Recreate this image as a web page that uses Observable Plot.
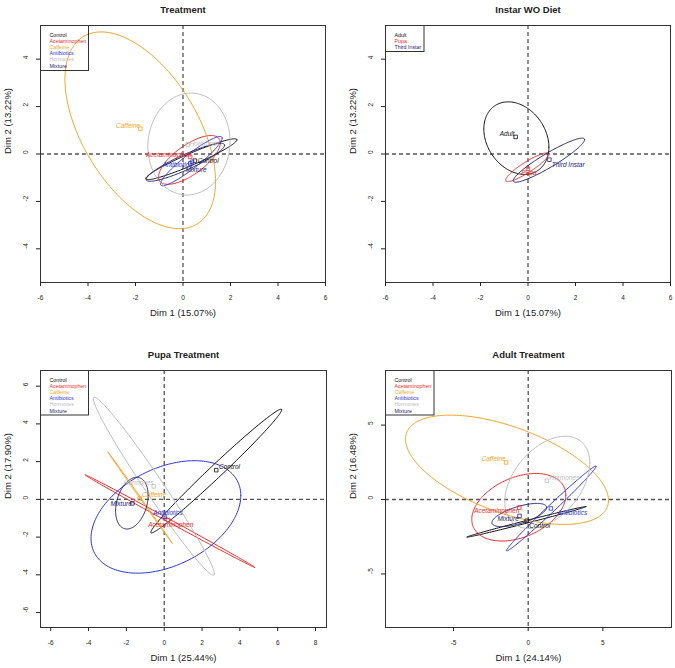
<!DOCTYPE html>
<html><head><meta charset="utf-8">
<script src="https://cdn.jsdelivr.net/npm/d3@7"></script>
<script src="https://cdn.jsdelivr.net/npm/@observablehq/plot@0.6"></script>
<style>
body{margin:0;background:#fff;}
#wrap{position:relative;width:675px;height:668px;}
.panel{position:absolute;}
</style></head><body><div id="wrap"></div>
<script>
// ---------- groups & colours ----------
const treatments = ["Control","Acetaminophen","Caffeine","Antibiotics","Hormones","Mixture"];
const treatColors = ["#111111","#ee2b2b","#f5a52a","#2b36e0","#bdbdbd","#23236f"];
const instars = ["Adult","Pupa","Third Instar"];
const instarColors = ["#111111","#ee2b2b","#23236f"];

// ---------- Panel 1: Treatment ----------
const p1Title = "Treatment", p1XLabel = "Dim 1 (15.07%)", p1YLabel = "Dim 2 (13.22%)";
const p1XTicks = [-6,-4,-2,0,2,4,6], p1YTicks = [-4,-2,0,2,4];
const p1Cx  = [0.35, 0.27, -1.8, 0.35, 0.25, 0.1];
const p1Cy  = [-0.22, -0.25, 1.0, -0.3, 0.42, -0.35];
const p1Sx  = [1.92, 1.3, 3.17, 1.3, 1.73, 1.65];
const p1Sy  = [0.86, 1.03, 4.15, 1.04, 2.15, 0.8];
const p1Rho = [0.95, 0.7, -0.52, 0.93, 0.05, 0.9];
const p1Px  = [0.5, 0.3, -1.8, 0.38, 0.2, 0.3];
const p1Py  = [-0.28, -0.12, 1.07, -0.33, 0.4, -0.4];
const p1Lx  = [0.62, -1.56, -2.82, -0.86, 0.28, 0.1];
const p1Ly  = [-0.3, -0.03, 1.17, -0.45, 0.43, -0.68];

// ---------- Panel 2: Instar WO Diet ----------
const p2Title = "Instar WO Diet", p2XLabel = "Dim 1 (15.07%)", p2YLabel = "Dim 2 (13.22%)";
const p2XTicks = [-6,-4,-2,0,2,4,6], p2YTicks = [-4,-2,0,2,4];
const p2Cx  = [-0.49, -0.04, 0.88];
const p2Cy  = [0.67, -0.56, -0.26];
const p2Sx  = [1.37, 0.9, 1.5];
const p2Sy  = [1.53, 0.6, 0.93];
const p2Rho = [-0.25, 0.9, 0.93];
const p2Px  = [-0.52, 0.0, 0.9];
const p2Py  = [0.72, -0.62, -0.24];
const p2Lx  = [-1.19, -0.28, 1.0];
const p2Ly  = [0.83, -0.78, -0.44];

// ---------- Panel 3: Pupa Treatment ----------
const p3Title = "Pupa Treatment", p3XLabel = "Dim 1 (25.44%)", p3YLabel = "Dim 2 (17.90%)";
const p3XTicks = [-6,-4,-2,0,2,4,6,8], p3YTicks = [-6,-4,-2,0,2,4,6];
const p3Cx  = [2.75, 0.3, -1.28, 0.09, -0.55, -1.71];
const p3Cy  = [1.5, -1.15, 0.1, -0.93, 0.7, -0.2];
const p3Sx  = [3.46, 4.48, 1.7, 3.96, 3.2, 0.86];
const p3Sy  = [3.28, 2.45, 2.42, 2.98, 4.72, 1.37];
const p3Rho = [0.99, -0.9993, -0.9998, 0.38, -0.983, 0.3];
const p3Px  = [2.75, 0.2, -1.3, 0.02, -0.55, -1.68];
const p3Py  = [1.55, -1.1, 0.05, -0.92, 0.69, -0.21];
const p3Lx  = [2.9, -0.85, -1.17, -0.58, -2.14, -2.84];
const p3Ly  = [1.7, -1.34, 0.26, -0.74, 0.87, -0.25];

// ---------- Panel 4: Adult Treatment ----------
const p4Title = "Adult Treatment", p4XLabel = "Dim 1 (24.14%)", p4YLabel = "Dim 2 (16.48%)";
const p4XTicks = [-5,0,5], p4YTicks = [-5,0,5];
const p4Cx  = [-0.12, -0.63, -1.42, 1.55, 1.28, -0.6];
const p4Cy  = [-1.5, -0.52, 2.0, -0.6, 1.15, -1.04];
const p4Sx  = [4.0, 3.15, 6.8, 3.0, 2.85, 1.83];
const p4Sy  = [1.03, 2.27, 3.67, 2.85, 3.1, 0.78];
const p4Rho = [0.996, 0.36, -0.56, 0.993, 0.42, 0.65];
const p4Px  = [-0.1, -0.6, -1.48, 1.52, 1.25, -0.58];
const p4Py  = [-1.43, -0.54, 2.49, -0.6, 1.26, -1.1];
const p4Lx  = [0.07, -3.62, -3.13, 1.97, 1.41, -2.06];
const p4Ly  = [-1.77, -0.76, 2.71, -0.92, 1.43, -1.32];

const FONT = "'Liberation Sans', Arial, Helvetica, sans-serif";

function ellipsePoints(groups, cx, cy, sx, sy, rho) {
  const pts = [];
  groups.forEach((g, i) => {
    const s = Math.sqrt(Math.max(0, 1 - rho[i] * rho[i]));
    for (let k = 0; k <= 180; k++) {
      const t = 2 * Math.PI * k / 180;
      pts.push({g, x: cx[i] + sx[i] * Math.cos(t), y: cy[i] + sy[i] * (rho[i] * Math.cos(t) + s * Math.sin(t))});
    }
  });
  return pts;
}

function makePanel(c) {
  const pts = ellipsePoints(c.groups, c.cx, c.cy, c.sx, c.sy, c.rho);
  const rows = c.groups.map((g, i) => ({g, px: c.px[i], py: c.py[i], lx: c.lx[i], ly: c.ly[i]}));
  const legendMarks = c.groups.map((g, i) => Plot.text([g], {
    frameAnchor: "top-left", text: d => d, dx: 9, dy: 7.3 + 6.2 * i,
    fill: c.colors[i], fontSize: 5.3, textAnchor: "start"
  }));
  const svg = Plot.plot({
    width: c.width, height: c.height,
    marginLeft: c.ml, marginRight: c.mr, marginTop: c.mt, marginBottom: c.mb,
    x: {domain: c.xdom, axis: null},
    y: {domain: c.ydom, axis: null},
    color: {type: "ordinal", domain: c.groups, range: c.colors},
    style: {fontFamily: FONT, background: "#fff", overflow: "visible", color: "#222"},
    marks: [
      Plot.ruleX([0], {stroke: "#555", strokeWidth: 1.3, strokeDasharray: "4,3"}),
      Plot.ruleY([0], {stroke: "#555", strokeWidth: 1.3, strokeDasharray: "4,3"}),
      Plot.line(pts, {x: "x", y: "y", z: "g", stroke: "g", strokeWidth: 1}),
      Plot.dot(rows, {x: "px", y: "py", stroke: "g", fill: "none", symbol: "square", r: 2, strokeWidth: 0.8}),
      Plot.text(rows, {x: "lx", y: "ly", text: "g", fill: "g", textAnchor: "start", fontSize: 6.5, fontStyle: "italic"}),
      Plot.frame({stroke: "#333", strokeWidth: 1}),
      Plot.axisX(c.xticks, {tickSize: 4, tickPadding: 9, fontSize: 6.5, tickFormat: d => String(d), label: null}),
      Plot.axisY(c.yticks, {tickSize: 4, tickFormat: () => "", label: null}),
      Plot.text(c.yticks, {y: d => d, text: d => String(d), frameAnchor: "left", dx: -14.5, rotate: -90, fontSize: 6.5}),
      Plot.text([c.xlabel], {frameAnchor: "bottom", text: d => d, dy: 33, fontSize: 9.5}),
      Plot.text([c.ylabel], {frameAnchor: "left", text: d => d, dx: -32.5, rotate: -90, fontSize: 9.5}),
      Plot.text([c.title], {frameAnchor: "top", text: d => d, dy: -19, fontSize: 9.5, fontWeight: "bold"}),
      ...legendMarks
    ]
  });
  // legend box
  d3.select(svg).append("rect")
    .attr("x", c.ml + 0.5).attr("y", c.mt + 0.5)
    .attr("width", c.legW).attr("height", c.legH)
    .attr("fill", "none").attr("stroke", "#333").attr("stroke-width", 1);
  const div = document.createElement("div");
  div.className = "panel";
  div.style.left = c.left + "px";
  div.style.top = c.top + "px";
  div.appendChild(svg);
  document.getElementById("wrap").appendChild(div);
}

makePanel({left: 0, top: 0, width: 337, height: 335, ml: 40, mr: 12, mt: 25, mb: 53,
  xdom: [-6, 6], ydom: [-5.42, 5.42], xticks: p1XTicks, yticks: p1YTicks,
  title: p1Title, xlabel: p1XLabel, ylabel: p1YLabel, groups: treatments, colors: treatColors,
  cx: p1Cx, cy: p1Cy, sx: p1Sx, sy: p1Sy, rho: p1Rho, px: p1Px, py: p1Py, lx: p1Lx, ly: p1Ly,
  legW: 48, legH: 45});

makePanel({left: 337, top: 0, width: 338, height: 335, ml: 48, mr: 5, mt: 25, mb: 53,
  xdom: [-6, 6], ydom: [-5.42, 5.42], xticks: p2XTicks, yticks: p2YTicks,
  title: p2Title, xlabel: p2XLabel, ylabel: p2YLabel, groups: instars, colors: instarColors,
  cx: p2Cx, cy: p2Cy, sx: p2Sx, sy: p2Sy, rho: p2Rho, px: p2Px, py: p2Py, lx: p2Lx, ly: p2Ly,
  legW: 38.5, legH: 26});

makePanel({left: 0, top: 335, width: 337, height: 333, ml: 40, mr: 11, mt: 35, mb: 41,
  xdom: [-6.54, 8.58], ydom: [-6.79, 6.83], xticks: p3XTicks, yticks: p3YTicks,
  title: p3Title, xlabel: p3XLabel, ylabel: p3YLabel, groups: treatments, colors: treatColors,
  cx: p3Cx, cy: p3Cy, sx: p3Sx, sy: p3Sy, rho: p3Rho, px: p3Px, py: p3Py, lx: p3Lx, ly: p3Ly,
  legW: 48, legH: 44.5});

makePanel({left: 337, top: 335, width: 338, height: 333, ml: 48, mr: 4, mt: 35, mb: 41,
  xdom: [-9.56, 9.6], ydom: [-8.6, 8.67], xticks: p4XTicks, yticks: p4YTicks,
  title: p4Title, xlabel: p4XLabel, ylabel: p4YLabel, groups: treatments, colors: treatColors,
  cx: p4Cx, cy: p4Cy, sx: p4Sx, sy: p4Sy, rho: p4Rho, px: p4Px, py: p4Py, lx: p4Lx, ly: p4Ly,
  legW: 48.5, legH: 44.5});
</script></body></html>
